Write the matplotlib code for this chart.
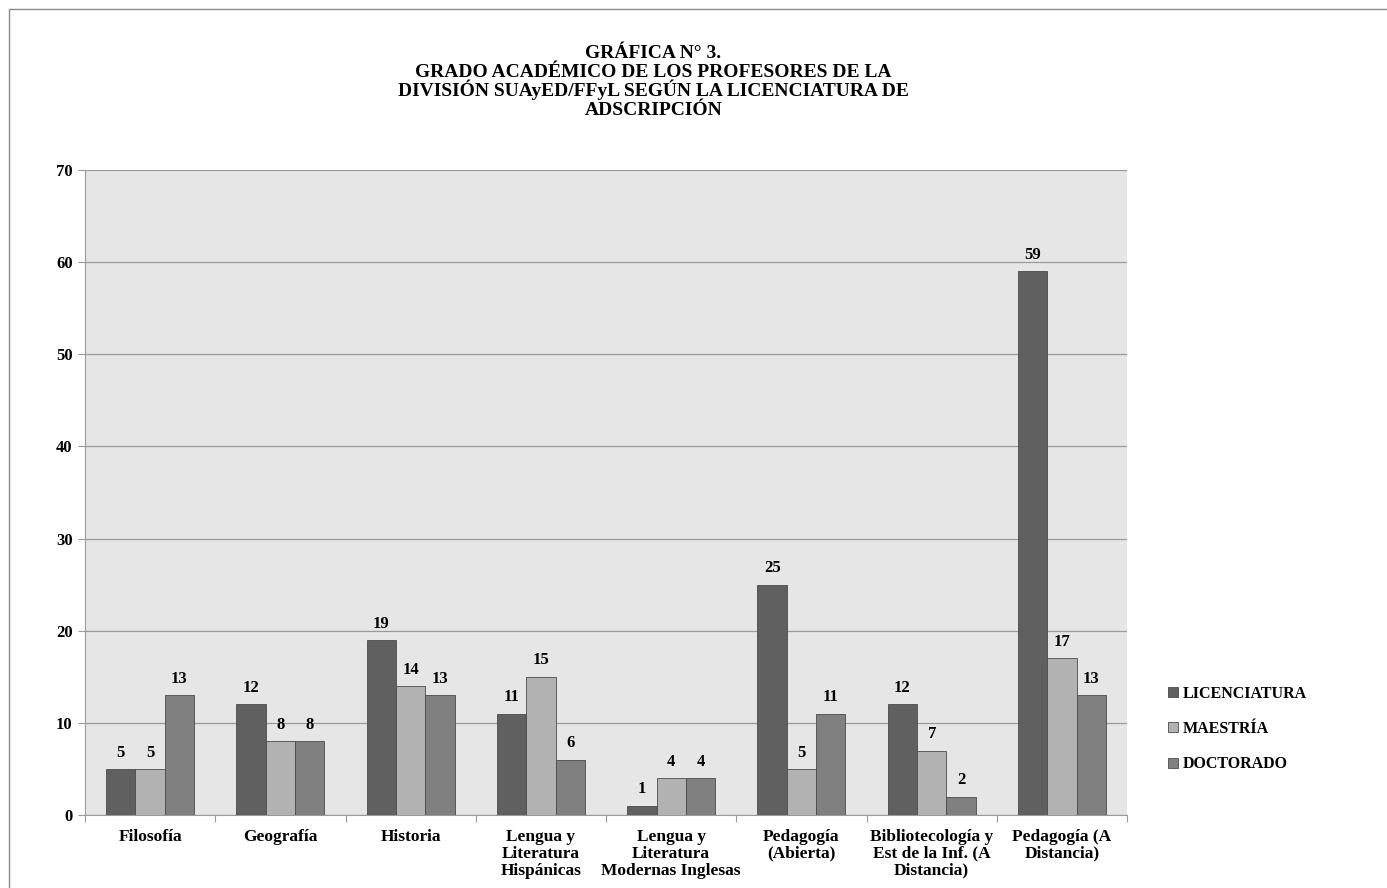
import matplotlib.pyplot as plt
import numpy as np
from matplotlib.patches import Rectangle, Patch

# data
categories = ["Filosofía", "Geografía", "Historia", "Lengua y\nLiteratura\nHispánicas",
              "Lengua y\nLiteratura\nModernas Inglesas", "Pedagogía\n(Abierta)",
              "Bibliotecología y\nEst de la Inf. (A\nDistancia)", "Pedagogía (A\nDistancia)"]
licenciatura = [5, 12, 19, 11, 1, 25, 12, 59]
maestria = [5, 8, 14, 15, 4, 5, 7, 17]
doctorado = [13, 8, 13, 6, 4, 11, 2, 13]
series_names = ["LICENCIATURA", "MAESTRÍA", "DOCTORADO"]
colors = ["#606060", "#b2b2b2", "#808080"]
title_lines = ["GRÁFICA N° 3.", "GRADO ACADÉMICO DE LOS PROFESORES DE LA",
               "DIVISIÓN SUAyED/FFyL SEGÚN LA LICENCIATURA DE", "ADSCRIPCIÓN"]

plt.rcParams['font.family'] = ['Liberation Serif', 'DejaVu Serif']

fig = plt.figure(figsize=(13.87, 8.88), dpi=100)
ax = fig.add_axes([0.0613, 0.0822, 0.7513, 0.7264])
ax.set_facecolor("#e6e6e6")

x = np.arange(len(categories))
w = 0.225
for i, (vals, name, c) in enumerate(zip([licenciatura, maestria, doctorado], series_names, colors)):
    pos = x + (i - 1) * w
    ax.bar(pos, vals, width=w, color=c, edgecolor="#4a4a4a", linewidth=0.6, label=name, zorder=3)
    for p, v in zip(pos, vals):
        ax.text(p, v + 0.9, str(v), ha="center", va="bottom", fontsize=12,
                fontweight="bold", zorder=4)

ax.set_xlim(-0.5, len(categories) - 0.5)
ax.set_ylim(0, 70)
ax.set_yticks(range(0, 71, 10))
ax.yaxis.grid(True, color="#9a9a9a", linewidth=0.9, zorder=0)
ax.set_axisbelow(True)
for s in ["top", "right"]:
    ax.spines[s].set_visible(False)
ax.spines["left"].set_color("#9a9a9a")
ax.spines["bottom"].set_color("#9a9a9a")
ax.tick_params(axis="y", length=5, color="#9a9a9a", labelsize=12, pad=4)
for lab in ax.get_yticklabels():
    lab.set_fontweight("bold")

# category separators as ticks, labels as minor ticks
ax.set_xticks(np.arange(-0.5, len(categories), 1.0))
ax.set_xticklabels([])
ax.tick_params(axis="x", which="major", length=5, color="#9a9a9a")
ax.set_xticks(x, minor=True)
ax.set_xticklabels(categories, minor=True, fontsize=12.5, fontweight="bold", linespacing=1.08)
ax.tick_params(axis="x", which="minor", length=0, pad=10)

# title, one line at a time on baselines 19 px apart
for k, line in enumerate(title_lines):
    fig.text(0.471, 1 - (58 + 19 * k) / 888, line, ha="center", va="baseline",
             fontsize=14, fontweight="bold")

handles = [Patch(facecolor=c, edgecolor="#4a4a4a", linewidth=0.6) for c in colors]
fig.legend(handles, series_names, loc="center left", bbox_to_anchor=(0.832, 0.179),
           frameon=False, handlelength=0.6, handleheight=0.6, handletextpad=0.3,
           labelspacing=1.2, prop={"weight": "bold", "size": 11.5})

# outer frame
fig.patches.append(Rectangle((0.0065, -0.01), 1.0, 1.0, transform=fig.transFigure,
                             fill=False, edgecolor="#8a8a8a", linewidth=1.0))

fig.savefig("out.png", dpi=100)
